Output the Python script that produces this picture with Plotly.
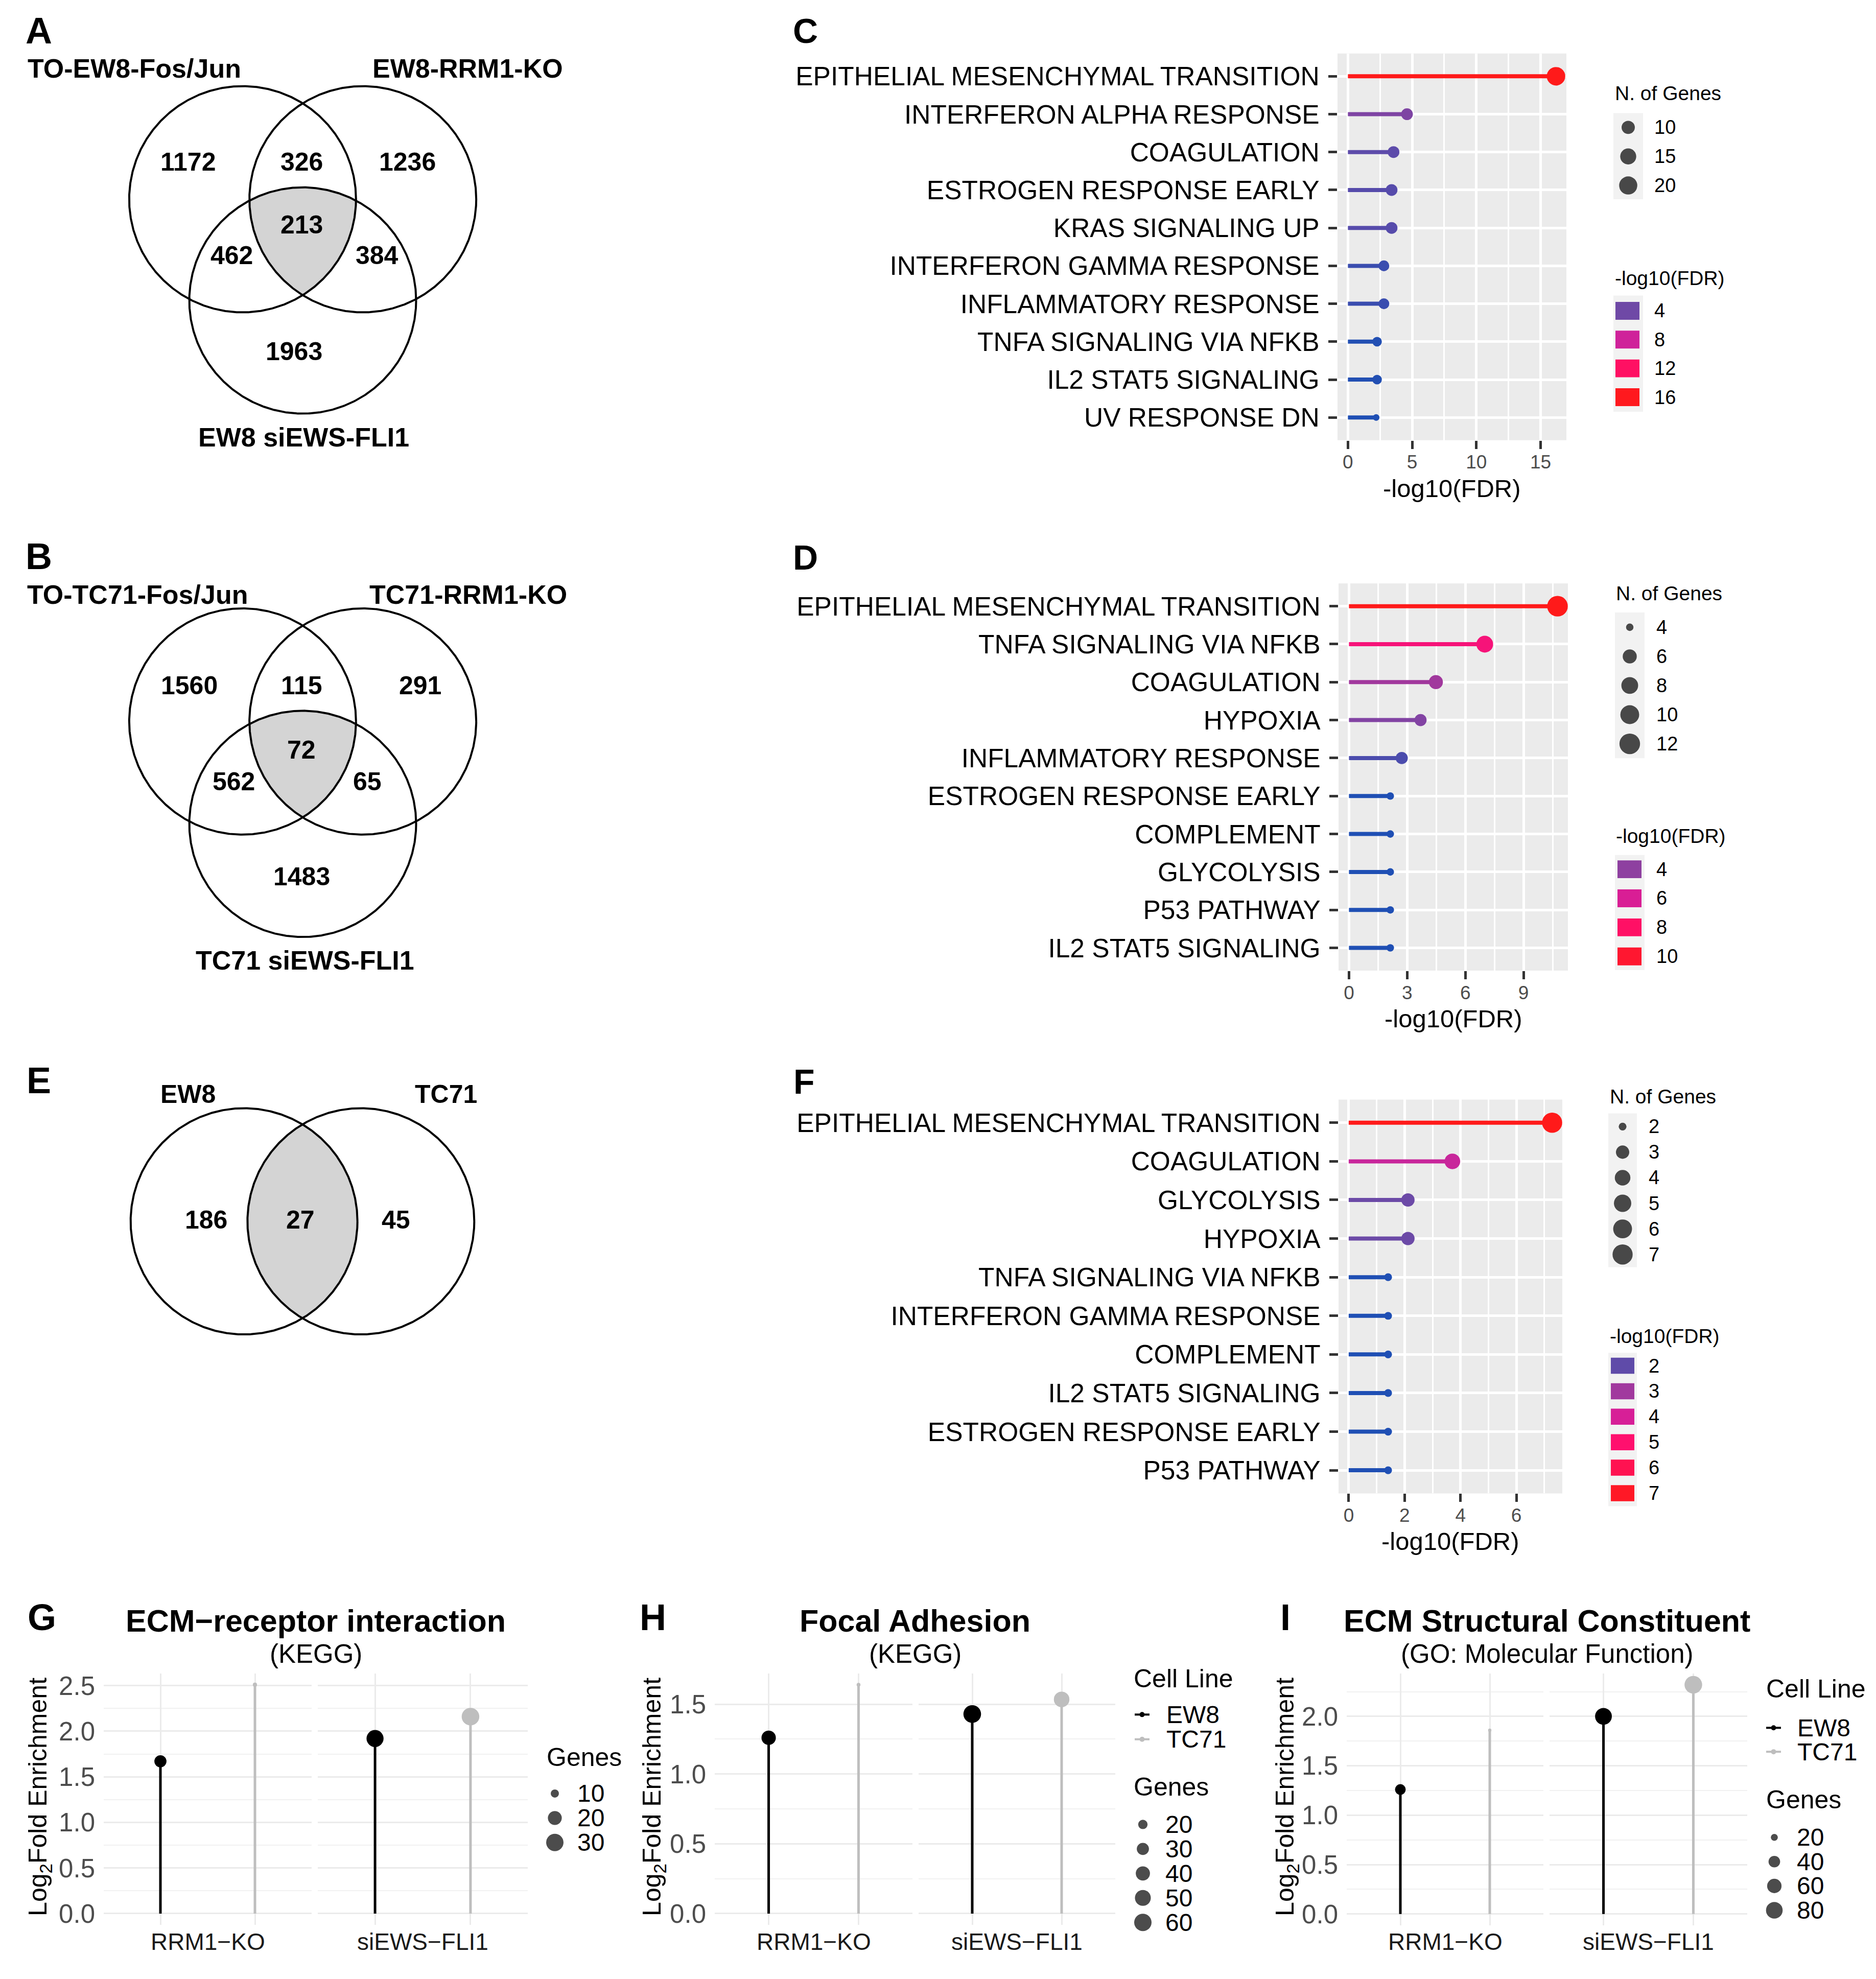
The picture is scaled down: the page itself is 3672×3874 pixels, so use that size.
import numpy as np
import plotly.graph_objects as go

W, H = 3672, 3874
FONT = "Liberation Sans, Arial, Helvetica, sans-serif"

# ======================= DATA =======================
vennA_sets = ["TO-EW8-Fos/Jun", "EW8-RRM1-KO", "EW8 siEWS-FLI1"]
vennA_counts = [1172, 326, 1236, 213, 462, 384, 1963]
vennB_sets = ["TO-TC71-Fos/Jun", "TC71-RRM1-KO", "TC71 siEWS-FLI1"]
vennB_counts = [1560, 115, 291, 72, 562, 65, 1483]
vennE_sets = ["EW8", "TC71"]
vennE_counts = [186, 27, 45]

C_terms = ["EPITHELIAL MESENCHYMAL TRANSITION", "INTERFERON ALPHA RESPONSE", "COAGULATION",
           "ESTROGEN RESPONSE EARLY", "KRAS SIGNALING UP", "INTERFERON GAMMA RESPONSE",
           "INFLAMMATORY RESPONSE", "TNFA SIGNALING VIA NFKB", "IL2 STAT5 SIGNALING", "UV RESPONSE DN"]
C_fdr = [16.2, 4.6, 3.55, 3.4, 3.4, 2.8, 2.8, 2.27, 2.27, 2.2]
C_genes = [21, 8, 8, 8, 8, 7, 7, 6, 6, 5]

D_terms = ["EPITHELIAL MESENCHYMAL TRANSITION", "TNFA SIGNALING VIA NFKB", "COAGULATION", "HYPOXIA",
           "INFLAMMATORY RESPONSE", "ESTROGEN RESPONSE EARLY", "COMPLEMENT", "GLYCOLYSIS",
           "P53 PATHWAY", "IL2 STAT5 SIGNALING"]
D_fdr = [10.75, 7.0, 4.48, 3.69, 2.72, 2.13, 2.13, 2.13, 2.13, 2.13]
D_genes = [12, 8, 6, 5, 5, 4, 4, 4, 4, 4]

F_terms = ["EPITHELIAL MESENCHYMAL TRANSITION", "COAGULATION", "GLYCOLYSIS", "HYPOXIA",
           "TNFA SIGNALING VIA NFKB", "INTERFERON GAMMA RESPONSE", "COMPLEMENT",
           "IL2 STAT5 SIGNALING", "ESTROGEN RESPONSE EARLY", "P53 PATHWAY"]
F_fdr = [7.28, 3.71, 2.12, 2.12, 1.41, 1.41, 1.41, 1.41, 1.41, 1.41]
F_genes = [7, 4, 3, 3, 2, 2, 2, 2, 2, 2]

C_size_breaks = [10, 15, 20]
C_color_breaks = [4, 8, 12, 16]
D_size_breaks = [4, 6, 8, 10, 12]
D_color_breaks = [4, 6, 8, 10]
F_size_breaks = [2, 3, 4, 5, 6, 7]
F_color_breaks = [2, 3, 4, 5, 6, 7]

conditions = ["RRM1−KO", "siEWS−FLI1"]
cell_lines = ["EW8", "TC71"]
G_EW8 = [1.67, 1.92]
G_TC71 = [2.51, 2.16]
G_EW8_genes = [16, 29]
G_TC71_genes = [8, 31]
H_EW8 = [1.26, 1.43]
H_TC71 = [1.64, 1.535]
H_EW8_genes = [41, 62]
H_TC71_genes = [12, 48]
I_EW8 = [1.26, 2.00]
I_TC71 = [1.86, 2.32]
I_EW8_genes = [35, 81]
I_TC71_genes = [15, 90]
G_size_breaks = [10, 20, 30]
H_size_breaks = [20, 30, 40, 50, 60]
I_size_breaks = [20, 40, 60, 80]

# ======================= STYLE / HELPERS =======================
CS_HEX = [(0.0, "#1F4FB4"), (0.12, "#6C4AA7"), (0.25, "#9A3C9E"), (0.43, "#D4209A"),
          (0.60, "#FF1070"), (0.72, "#FF1060"), (1.0, "#FF1A1A")]
MS = 1.17  # marker size factor


def hex2rgb(h):
    h = h.lstrip("#")
    return tuple(int(h[i:i + 2], 16) for i in (0, 2, 4))


CS = [[p, "rgb(%d,%d,%d)" % hex2rgb(c)] for p, c in CS_HEX]


def cs_color(t):
    t = min(max(t, 0.0), 1.0)
    for (p0, c0), (p1, c1) in zip(CS_HEX[:-1], CS_HEX[1:]):
        if p0 <= t <= p1:
            f = (t - p0) / (p1 - p0) if p1 > p0 else 0
            a, b = hex2rgb(c0), hex2rgb(c1)
            return "rgb(%d,%d,%d)" % tuple(round(a[i] + f * (b[i] - a[i])) for i in range(3))
    return "rgb(%d,%d,%d)" % hex2rgb(CS_HEX[-1][1])


def size_px(n, nmin, nmax, dmin, dmax):
    return MS * (dmin + (dmax - dmin) * np.sqrt((n - nmin) / (nmax - nmin)))


GREY = "#BEBEBE"
fig = go.Figure()
L = {}
ANN = []
SHP = []


def text(s, x, y, size, color="black", bold=False, xanchor="center", yanchor="middle",
         angle=0, xref="paper", yref="paper"):
    if xref == "paper":
        x = x / W
    if yref == "paper":
        y = 1 - y / H
    ANN.append(dict(text=("<b>%s</b>" % s) if bold else s, x=x, y=y, xref=xref, yref=yref,
                    xanchor=xanchor, yanchor=yanchor, showarrow=False, textangle=angle,
                    font=dict(family=FONT, size=size, color=color)))


def rect(x0, y0, x1, y1, color, layer="below"):
    SHP.append(dict(type="rect", xref="paper", yref="paper", x0=x0 / W, x1=x1 / W,
                    y0=1 - y1 / H, y1=1 - y0 / H, fillcolor=color, line=dict(width=0), layer=layer))


OV = ("x13", "y13")  # overlay axes for legend glyphs


def ov_trace(**kw):
    fig.add_trace(go.Scatter(xaxis=OV[0], yaxis=OV[1], hoverinfo="skip", showlegend=False, **kw))


# ======================= VENN =======================
def venn(idx, box, origin, scale, centers, sets, set_pos, counts, count_pos):
    xa, ya = "x%d" % idx, "y%d" % idx
    bx0, by0, bx1, by1 = box
    ox, oy = origin
    L["xaxis%d" % idx] = dict(domain=[bx0 / W, bx1 / W], anchor=ya, visible=False,
                              range=[(bx0 - ox) / scale, (bx1 - ox) / scale])
    L["yaxis%d" % idx] = dict(domain=[1 - by1 / H, 1 - by0 / H], anchor=xa, visible=False,
                              range=[-(by1 - oy) / scale, -(by0 - oy) / scale])
    r = 1.0
    th = np.linspace(0, 2 * np.pi, 4000, endpoint=False)
    pts = []
    for i, (cx, cy) in enumerate(centers):
        px, py = cx + r * np.cos(th), cy + r * np.sin(th)
        ins = np.ones(px.shape, bool)
        for j, (qx, qy) in enumerate(centers):
            if j != i:
                ins &= (px - qx) ** 2 + (py - qy) ** 2 <= r ** 2
        pts.append(np.c_[px[ins], py[ins]])
    Pn = np.vstack(pts)
    c = Pn.mean(0)
    Pn = Pn[np.argsort(np.arctan2(Pn[:, 1] - c[1], Pn[:, 0] - c[0]))]
    fig.add_trace(go.Scatter(x=np.r_[Pn[:, 0], Pn[0, 0]], y=np.r_[Pn[:, 1], Pn[0, 1]], fill="toself",
                             fillcolor="#D4D4D4", mode="lines", line=dict(width=0),
                             xaxis=xa, yaxis=ya, hoverinfo="skip", showlegend=False))
    tt = np.linspace(0, 2 * np.pi, 721)
    for (cx, cy) in centers:
        fig.add_trace(go.Scatter(x=cx + r * np.cos(tt), y=cy + r * np.sin(tt), mode="lines",
                                 line=dict(color="black", width=4), xaxis=xa, yaxis=ya,
                                 hoverinfo="skip", showlegend=False))
    for s, (x, y) in zip(sets, set_pos):
        text(s, x, y, 52 if len(sets) == 3 else 50, bold=True, xref=xa, yref=ya)
    for n, (x, y) in zip(counts, count_pos):
        text(str(n), x, y, 50, bold=True, xref=xa, yref=ya)


venn(1, (0, 0, 1150, 940), (584.5, 379), 222,
     [(-0.53, 0.0), (0.53, 0.0), (0.0, -0.895)], vennA_sets,
     [(-1.485, 1.158), (1.455, 1.158), (0.007, -2.105)], vennA_counts,
     [(-1.011, 0.33), (-0.011, 0.33), (0.925, 0.33), (-0.011, -0.226), (-0.627, -0.498),
      (0.654, -0.498), (-0.075, -1.344)])
venn(2, (0, 1040, 1150, 1960), (584.5, 1404), 222,
     [(-0.53, 0.0), (0.53, 0.0), (0.0, -0.905)], vennB_sets,
     [(-1.455, 1.122), (1.459, 1.122), (0.02, -2.11)], vennB_counts,
     [(-0.998, 0.317), (-0.011, 0.317), (1.038, 0.317), (-0.011, -0.253), (-0.609, -0.529),
      (0.572, -0.529), (-0.011, -1.371)])
venn(3, (0, 2060, 1150, 2700), (584, 2385), 222,
     [(-0.515, 0.0), (0.515, 0.0)], vennE_sets,
     [(-1.009, 1.122), (1.267, 1.122)], vennE_counts,
     [(-0.851, 0.014), (-0.018, 0.014), (0.824, 0.014)])


# ======================= LOLLIPOP PANELS (C, D, F) =======================
def lollipop(idx, terms, vals, genes, px_box, dtick, minor_dtick, dmin, dmax):
    xa, ya = "x%d" % idx, "y%d" % idx
    x0, y0, x1, y1 = px_box
    vmin, vmax = min(vals), max(vals)
    gmin, gmax = min(genes), max(genes)
    for t, v in zip(terms, vals):
        fig.add_trace(go.Scatter(x=[0, v], y=[t, t], mode="lines",
                                 line=dict(color=cs_color((v - vmin) / (vmax - vmin)), width=8),
                                 xaxis=xa, yaxis=ya, hoverinfo="skip", showlegend=False))
    fig.add_trace(go.Scatter(x=vals, y=terms, mode="markers",
                             marker=dict(size=[size_px(g, gmin, gmax, dmin, dmax) for g in genes],
                                         color=vals, colorscale=CS, cmin=vmin, cmax=vmax,
                                         line=dict(width=0), opacity=1),
                             xaxis=xa, yaxis=ya, hoverinfo="skip", showlegend=False))
    L["xaxis%d" % idx] = dict(domain=[x0 / W, x1 / W], anchor=ya, range=[-0.05 * vmax, 1.05 * vmax],
                              tickmode="linear", tick0=0, dtick=dtick, ticks="outside", ticklen=16,
                              tickwidth=5, tickcolor="#333333", showgrid=True, gridcolor="white",
                              gridwidth=5, zeroline=False, showline=False,
                              minor=dict(tick0=0, dtick=minor_dtick, showgrid=True, gridcolor="white",
                                         gridwidth=2.5, ticks=""),
                              tickfont=dict(family=FONT, size=37, color="#4D4D4D"), ticklabelstandoff=-6)
    L["yaxis%d" % idx] = dict(domain=[1 - y1 / H, 1 - y0 / H], anchor=xa, type="category",
                              categoryorder="array", categoryarray=terms[::-1],
                              range=[-0.6, len(terms) - 0.4], ticks="outside", ticklen=17, tickwidth=5,
                              tickcolor="#333333", showgrid=True, gridcolor="white", gridwidth=5,
                              zeroline=False, showline=False,
                              tickfont=dict(family=FONT, size=51.5, color="black"), ticklabelstandoff=7)
    SHP.append(dict(type="rect", xref="%s domain" % xa, yref="%s domain" % ya, x0=0, x1=1, y0=0, y1=1,
                    fillcolor="#EBEBEB", line=dict(width=0), layer="below"))
    text("-log10(FDR)", (x0 + x1) / 2, y1 + 94, 49)
    return vmin, vmax, gmin, gmax


def cdf_legend(lg, breaks_s, breaks_c, vmin, vmax, gmin, gmax, dmin, dmax, sh=-12):
    text("N. of Genes", lg["tx"] + sh, lg["t1y"], 39, xanchor="left")
    b = lg["bg1"]
    rect(b[0] + sh, b[1], b[2] + sh, b[3], "#F2F2F2")
    ys = [lg["dy0"] + i * lg["ddy"] for i in range(len(breaks_s))]
    ov_trace(x=[lg["dx"] + sh] * len(breaks_s), y=ys, mode="markers",
             marker=dict(size=[size_px(v, gmin, gmax, dmin, dmax) for v in breaks_s], color="black",
                         line=dict(width=0)))
    for v, y in zip(breaks_s, ys):
        text(str(v), lg["lx"] + sh, y, 38, xanchor="left")
    text("-log10(FDR)", lg["tx"] + sh, lg["t2y"], 39, xanchor="left")
    b = lg["bg2"]
    rect(b[0] + sh, b[1], b[2] + sh, b[3], "#F2F2F2")
    for i, v in enumerate(breaks_c):
        y = lg["ky0"] + i * lg["kdy"]
        rect(lg["kx0"] + sh, y - lg["kh"] / 2, lg["kx1"] + sh, y + lg["kh"] / 2,
             cs_color((v - vmin) / (vmax - vmin)), layer="above")
        text(str(v), lg["lx"] + sh, y, 38, xanchor="left")


cC = lollipop(4, C_terms, C_fdr, C_genes, (2610, 93, 3058, 852), 5, 2.5, 11, 31)
cdf_legend(dict(tx=3163, t1y=171, bg1=(3162, 210, 3220, 379), dx=3191, dy0=238, ddy=57, lx=3240,
                t2y=534, bg2=(3162, 568, 3220, 796), kx0=3166, kx1=3213, ky0=598, kdy=56.5, kh=35),
           C_size_breaks, C_color_breaks, cC[0], cC[1], cC[2], cC[3], 11, 31)

cD = lollipop(5, D_terms, D_fdr, D_genes, (2612, 1133, 3061, 1893), 3, 1.5, 12.5, 34.5)
cdf_legend(dict(tx=3165, t1y=1152, bg1=(3165, 1190, 3223, 1476), dx=3194, dy0=1219, ddy=57.2, lx=3244,
                t2y=1629, bg2=(3165, 1666, 3223, 1892), kx0=3170, kx1=3217, ky0=1694, kdy=57, kh=35),
           D_size_breaks, D_color_breaks, cD[0], cD[1], cD[2], cD[3], 12.5, 34.5)

cF = lollipop(6, F_terms, F_fdr, F_genes, (2612, 2146, 3050, 2919), 2, 1, 13, 33.7)
cdf_legend(dict(tx=3153, t1y=2140, bg1=(3152, 2173, 3208, 2475), dx=3180, dy0=2199, ddy=50.2, lx=3229,
                t2y=2610, bg2=(3152, 2643, 3208, 2944), kx0=3157, kx1=3203, ky0=2668.5, kdy=50, kh=31.6),
           F_size_breaks, F_color_breaks, cF[0], cF[1], cF[2], cF[3], 13, 33.7)


# ======================= FACETED LOLLIPOPS (G, H, I) =======================
def facet_panel(idxs, xboxes, ytop, ybot, ew8, tc71, ew8g, tc71g, dmin, dmax):
    ymax = max(ew8 + tc71)
    allg = ew8g + tc71g
    gmin, gmax = min(allg), max(allg)
    for k, idx in enumerate(idxs):
        xa, ya = "x%d" % idx, "y%d" % idx
        for line, v, g, col in [("EW8", ew8[k], ew8g[k], "black"), ("TC71", tc71[k], tc71g[k], GREY)]:
            fig.add_trace(go.Scatter(x=[line, line], y=[0, v], mode="lines", line=dict(color=col, width=5),
                                     xaxis=xa, yaxis=ya, hoverinfo="skip", showlegend=False))
            fig.add_trace(go.Scatter(x=[line], y=[v], mode="markers",
                                     marker=dict(size=size_px(g, gmin, gmax, dmin, dmax), color=col,
                                                 line=dict(width=0)),
                                     xaxis=xa, yaxis=ya, hoverinfo="skip", showlegend=False))
        bx0, bx1 = xboxes[k]
        L["xaxis%d" % idx] = dict(domain=[bx0 / W, bx1 / W], anchor=ya, type="category",
                                  categoryorder="array", categoryarray=cell_lines, range=[-0.6, 1.6],
                                  showgrid=True, gridcolor="#EBEBEB", gridwidth=3, showticklabels=False,
                                  ticks="", zeroline=False, showline=False)
        L["yaxis%d" % idx] = dict(domain=[1 - ybot / H, 1 - ytop / H], anchor=xa,
                                  range=[-0.05 * ymax, 1.05 * ymax], tickmode="linear", tick0=0, dtick=0.5,
                                  tickformat=".1f", showgrid=True, gridcolor="#EBEBEB", gridwidth=3,
                                  minor=dict(tick0=0, dtick=0.25, showgrid=True, gridcolor="#F1F1F1",
                                             gridwidth=1.8),
                                  showticklabels=(k == 0), ticks="", zeroline=False, showline=False,
                                  tickfont=dict(family=FONT, size=51, color="#4D4D4D"), ticklabelstandoff=16)
        text(conditions[k], 0.5, 3799, 46, color="#1A1A1A", xref="%s domain" % xa)
    return gmin, gmax


def genes_legend(tx, ty, dx, dy0, ddy, lx, breaks, gmin, gmax, dmin, dmax):
    text("Genes", tx, ty, 50, xanchor="left")
    ys = [dy0 + i * ddy for i in range(len(breaks))]
    ov_trace(x=[dx] * len(breaks), y=ys, mode="markers",
             marker=dict(size=[size_px(b, gmin, gmax, dmin, dmax) for b in breaks], color="black",
                         line=dict(width=0)))
    for b, y in zip(breaks, ys):
        text(str(b), lx, y, 48, xanchor="left")


def cell_legend(tx, ty, item_ys, kx0, kx1, lx):
    text("Cell Line", tx, ty, 50, xanchor="left")
    for name, y, col in zip(cell_lines, item_ys, ["black", GREY]):
        ov_trace(x=[kx0, kx1], y=[y, y], mode="lines", line=dict(color=col, width=4))
        ov_trace(x=[(kx0 + kx1) / 2], y=[y], mode="markers", marker=dict(size=10, color=col))
        text(name, lx, y, 48, xanchor="left")


gG = facet_panel((7, 8), [(195, 602), (614, 1025)], 3272, 3766, G_EW8, G_TC71, G_EW8_genes, G_TC71_genes, 7, 29.5)
genes_legend(1060, 3437, 1078, 3508, 48, 1120, G_size_breaks, gG[0], gG[1], 7, 29.5)
text("ECM−receptor interaction", 610, 3169, 61, bold=True)
text("(KEGG)", 610, 3234, 51)
text("Log<sub>2</sub>Fold Enrichment", 70, 3515, 50, angle=-90)

gH = facet_panel((9, 10), [(1391, 1778), (1790, 2175)], 3272, 3766, H_EW8, H_TC71, H_EW8_genes, H_TC71_genes, 6.5, 29.5)
cell_legend(2209, 3282.5, [3353, 3401.5], 2213, 2242, 2273)
genes_legend(2209, 3495, 2229, 3568.6, 48.1, 2271, H_size_breaks, gH[0], gH[1], 6.5, 29.5)
text("Focal Adhesion", 1783, 3169, 61, bold=True)
text("(KEGG)", 1783, 3234, 51)
text("Log<sub>2</sub>Fold Enrichment", 1272, 3515, 50, angle=-90)

gI = facet_panel((11, 12), [(2628, 3013), (3025, 3412)], 3272, 3767, I_EW8, I_TC71, I_EW8_genes, I_TC71_genes, 5.5, 29.5)
cell_legend(3447, 3303, [3379, 3426], 3449, 3478, 3508)
genes_legend(3447, 3520.5, 3465, 3594, 47.7, 3507, I_size_breaks, gI[0], gI[1], 5.5, 29.5)
text("ECM Structural Constituent", 3020, 3169, 61, bold=True)
text("(GO: Molecular Function)", 3020, 3234, 51)
text("Log<sub>2</sub>Fold Enrichment", 2511, 3515, 50, angle=-90)

# ======================= PANEL LETTERS =======================
for s, x, y, sz in [("A", 68, 48, 72), ("B", 68, 1080, 72), ("E", 68, 2108, 72),
                    ("C", 1568, 48, 68), ("D", 1568, 1082, 68), ("F", 1566, 2110, 68),
                    ("G", 74, 3162, 72), ("H", 1270, 3162, 72), ("I", 2508, 3162, 72)]:
    text(s, x, y, sz, bold=True)

# overlay axes (legend glyphs)
L["xaxis13"] = dict(domain=[0, 1], range=[0, W], visible=False, anchor="y13")
L["yaxis13"] = dict(domain=[0, 1], range=[H, 0], visible=False, anchor="x13")

fig.update_layout(width=W, height=H, margin=dict(l=0, r=0, t=0, b=0), autosize=False,
                  paper_bgcolor="white", plot_bgcolor="rgba(0,0,0,0)", showlegend=False,
                  font=dict(family=FONT), annotations=ANN, shapes=SHP, **L)
fig.write_html("out.html")
